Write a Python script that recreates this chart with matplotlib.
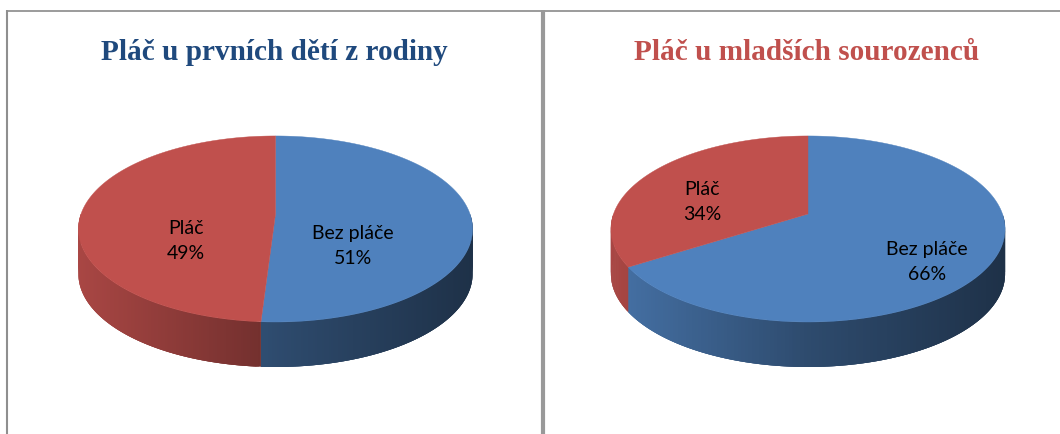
#!/usr/bin/env python3
# -*- coding: utf-8 -*-
#Two 3D looking pies, drawn by hand because matplotlib pie is flat
import numpy as np
import matplotlib
matplotlib.use('Agg')
import matplotlib.pyplot as plt
from matplotlib.patches import Polygon
from matplotlib.collections import PolyCollection

#The data
titles = ['Pláč u prvních dětí z rodiny', 'Pláč u mladších sourozenců']
categories = ['Bez pláče', 'Pláč']
first_children = [51, 49]
younger_siblings = [66, 34]

#Layout in pixels
centres = [275.5, 808]
label_pos = [[(353, 246), (186, 241)], [(927, 262), (702, 202)]]
title_x = [274, 807]
title_colors = ['#1F497D', '#C0504D']
slice_colors = ['#4F81BD', '#C0504D']
apex_y = 214
depth = 45
radius = 194.5
squash = 90.6
#perspective strength, front of the pie is nearer
k = 0.161

fig = plt.figure(figsize=(10.6, 4.34), dpi=100)
ax = fig.add_axes([0, 0, 1, 1])
ax.set_xlim(0, 1060)
ax.set_ylim(434, 0)
ax.axis('off')

#Frame lines
ax.plot([7, 1060], [10.5, 10.5], color='#8A8A8A', lw=1.2, solid_capstyle='butt')
ax.plot([7, 7], [10, 434], color='#8F8F8F', lw=1.5, solid_capstyle='butt')
ax.plot([543, 543], [10, 434], color='#999999', lw=3, solid_capstyle='butt')


def rim(theta, cx):
    #theta runs clockwise from the top of the pie
    X = np.sin(theta)
    Z = -np.cos(theta)
    w = 1 / (1 - k * Z)
    return cx + radius * X * w, apex_y + squash * Z * w


def shade(color, x, cx):
    f = np.interp((x - cx) / 197, [-1, 0, 1], [0.88, 0.58, 0.38])
    return tuple(np.array(matplotlib.colors.to_rgb(color)) * f)


for cx, title, tx, tcol, values, labels in zip(centres, titles, title_x, title_colors,
                                               [first_children, younger_siblings], label_pos):
    ax.text(tx, 52, title, color=tcol, fontsize=21.1, fontweight='bold',
            family='Liberation Serif', ha='center', va='center')

    total = sum(values)
    start = 0
    for val, col, name, pos in zip(values, slice_colors, categories, labels):
        end = start + val / total * 2 * np.pi
        th = np.linspace(start, end, int(val * 8) + 2)
        x, y = rim(th, cx)

        #Side wall, only the front half of the pie shows it
        #strips overlap the next one so no seams show between them
        a = np.clip(start, np.pi / 2, 3 * np.pi / 2)
        b = np.clip(end, np.pi / 2, 3 * np.pi / 2)
        if b > a:
            wall = np.linspace(a, b, 160)
            wx, wy = rim(wall, cx)
            strips = []
            strip_cols = []
            for i in range(len(wall) - 1):
                j = min(i + 3, len(wall) - 1)
                strip = [(wx[n], wy[n]) for n in range(i, j + 1)]
                strip += [(wx[n], wy[n] + depth) for n in range(j, i - 1, -1)]
                strips.append(strip)
                strip_cols.append(shade(col, (wx[i] + wx[i + 1]) / 2, cx))
            ax.add_collection(PolyCollection(strips, facecolors=strip_cols, edgecolors='none',
                                             linewidths=0, zorder=2))

        #Top of the slice
        pts = np.column_stack([np.r_[cx, x], np.r_[apex_y, y]])
        ax.add_patch(Polygon(pts, closed=True, facecolor=col, edgecolor=col, lw=0.3, zorder=3))

        ax.text(pos[0], pos[1], name + '\n' + str(val) + '%', fontsize=14, family='Lato',
                color='black', ha='center', va='center', linespacing=1.6, zorder=4)
        start = end

fig.savefig('out.png', dpi=100)
